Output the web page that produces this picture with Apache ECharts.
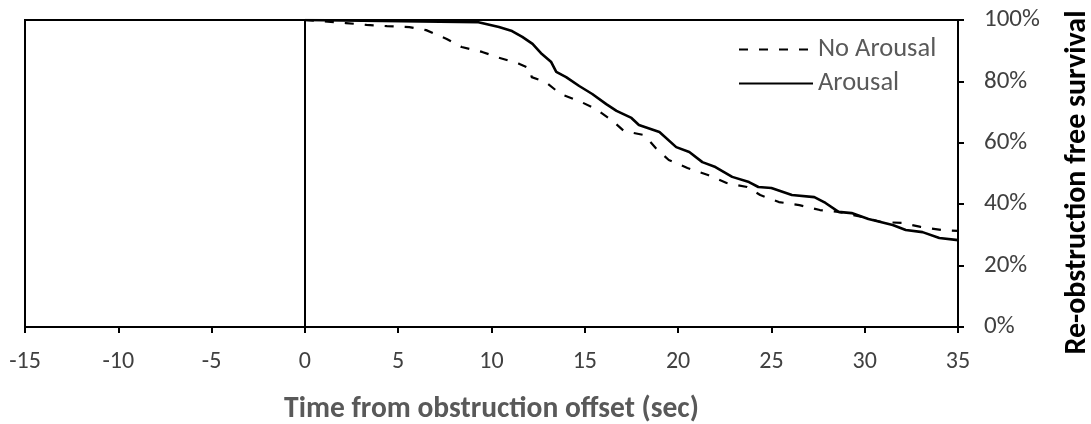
<!DOCTYPE html>
<html>
<head>
<meta charset="utf-8">
<script src="https://cdn.jsdelivr.net/npm/echarts@6/dist/echarts.min.js"></script>
<style>
html,body{margin:0;padding:0;background:#fff;}
#chart{width:1091px;height:424px;}
</style>
</head>
<body>
<div id="chart"></div>
<script>
// Time (sec) and survival (%) for each group
const noArousalTime = [0, 2.2, 3.3, 4.4, 5.6, 6.5, 7.6, 8.4, 9.5, 10.3, 11.5, 12.1, 12.15, 12.9, 13.7, 14.7, 15.6, 16.5, 17.1, 18.2, 18.8, 19.5, 20.5, 21.6, 22.6, 23.7, 24.4, 25.4, 26.5, 27.6, 28.6, 29.9, 30.9, 32.0, 33.0, 34.1, 35];
const noArousalSurv = [100, 99.0, 98.4, 98.0, 97.7, 96.7, 93.8, 91.2, 89.6, 87.9, 85.7, 84.0, 81.4, 79.8, 75.9, 73.6, 71.0, 67.1, 63.8, 62.5, 58.3, 54.4, 51.8, 49.5, 46.9, 45.6, 43.0, 40.7, 39.7, 38.1, 37.5, 35.8, 34.2, 33.9, 32.6, 31.6, 31.3];
const arousalTime = [0, 9.3, 10.4, 11.1, 11.65, 12.2, 12.7, 13.2, 13.47, 14.0, 14.7, 15.4, 16.15, 16.7, 17.5, 17.9, 19.0, 19.9, 20.6, 21.3, 22.0, 22.9, 23.8, 24.3, 25.0, 26.1, 27.3, 27.9, 28.6, 29.3, 30.2, 31.5, 32.2, 33.1, 34.0, 35];
const arousalSurv = [100, 99.3, 97.7, 96.4, 94.5, 92.2, 88.9, 86.3, 83.1, 81.4, 78.5, 75.9, 72.6, 70.4, 68.1, 65.8, 63.5, 58.6, 57.0, 53.7, 52.1, 48.9, 47.2, 45.6, 45.3, 43.0, 42.3, 40.4, 37.5, 37.1, 35.2, 33.2, 31.6, 30.9, 29.0, 28.3];
const seriesNames = ['No Arousal', 'Arousal'];
const xTitle = 'Time from obstruction offset (sec)';
const yTitle = 'Re-obstruction free survival';

const FONT = "Carlito, 'Liberation Sans', sans-serif";
const pairs = (xs, ys) => xs.map((x, i) => [x, ys[i]]);

const chart = echarts.init(document.getElementById('chart'), null, {renderer: 'canvas'});
chart.setOption({
  animation: false,
  backgroundColor: '#fff',
  textStyle: {fontFamily: FONT},
  grid: {left: 25, right: 133, top: 20, bottom: 97, show: true, borderColor: '#000', borderWidth: 2,
         containLabel: false, outerBoundsMode: 'none'},
  legend: {
    orient: 'vertical', left: 733, top: 31, itemWidth: 74, itemHeight: 14, itemGap: 7,
    itemStyle: {color: 'rgba(0,0,0,0)', borderWidth: 0, opacity: 0},
    textStyle: {color: '#595959', fontSize: 26.5, fontFamily: FONT},
    data: seriesNames
  },
  xAxis: {
    type: 'value', min: -15, max: 35, interval: 5,
    axisLine: {onZero: false, lineStyle: {color: '#000', width: 2}},
    axisTick: {show: true, length: 6, lineStyle: {color: '#000', width: 2}},
    splitLine: {show: false},
    axisLabel: {color: '#404040', fontSize: 24, margin: 23, fontFamily: FONT},
    name: xTitle, nameLocation: 'middle', nameGap: 68,
    nameTextStyle: {color: '#595959', fontSize: 29.5, fontWeight: 'bold', fontFamily: FONT}
  },
  yAxis: {
    type: 'value', position: 'right', min: 0, max: 100, interval: 20,
    axisLine: {show: true, onZero: false, lineStyle: {color: '#000', width: 2}},
    axisTick: {show: true, length: 6, lineStyle: {color: '#000', width: 2}},
    splitLine: {show: false},
    axisLabel: {color: '#404040', fontSize: 25, margin: 26, formatter: '{value}%', fontFamily: FONT},
    name: yTitle, nameLocation: 'middle', nameGap: 104, nameRotate: 90,
    nameTextStyle: {color: '#000', fontSize: 30, fontWeight: 'bold', fontFamily: FONT, padding: [0, 18, 0, 0]}
  },
  series: [
    {
      name: seriesNames[0], type: 'line', symbol: 'none', showSymbol: false,
      data: pairs(noArousalTime, noArousalSurv),
      lineStyle: {color: '#000', width: 2.2, type: [9, 11]},
      itemStyle: {color: '#000'},
      markLine: {
        silent: true, symbol: 'none', label: {show: false},
        lineStyle: {color: '#000', width: 2, type: 'solid'},
        data: [{xAxis: 0}]
      }
    },
    {
      name: seriesNames[1], type: 'line', symbol: 'none', showSymbol: false,
      data: pairs(arousalTime, arousalSurv),
      lineStyle: {color: '#000', width: 2.6, type: 'solid'},
      itemStyle: {color: '#000'}
    }
  ]
});
</script>
</body>
</html>
